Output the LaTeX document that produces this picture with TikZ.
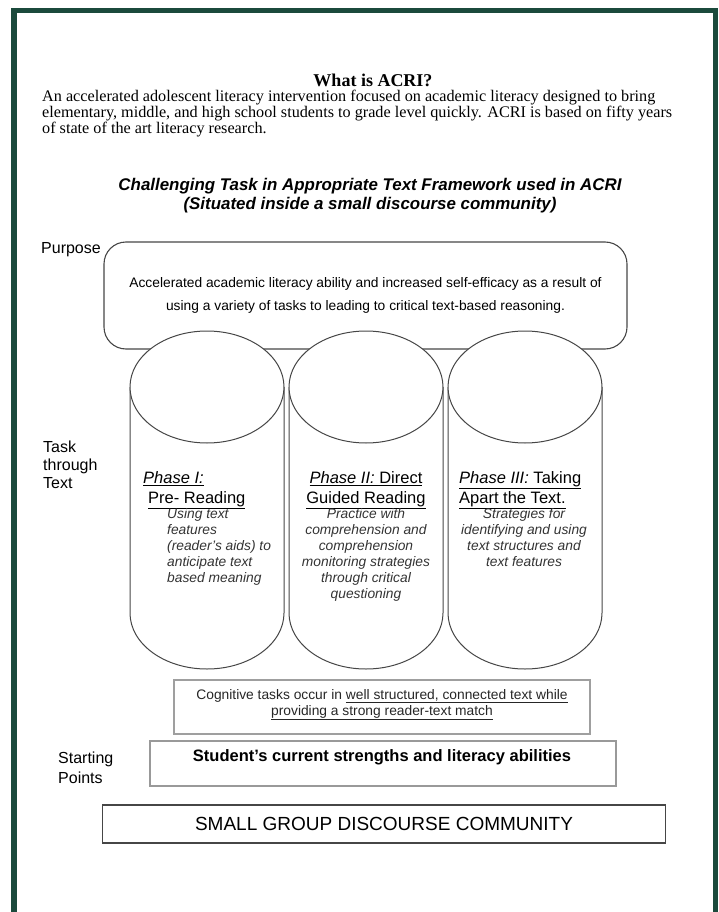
\documentclass[tikz,border=0pt]{standalone}
\usepackage{fontspec}
\setmainfont{Liberation Serif}
\setsansfont{Liberation Sans}
\usetikzlibrary{shapes.geometric}
\definecolor{framegreen}{RGB}{27,74,60}
\definecolor{linegray}{RGB}{70,70,70}
\newcommand{\fsz}[2]{\fontsize{#1}{#2}\selectfont}

\begin{document}
\begin{tikzpicture}[x=1pt, y=-1pt,
        block/.style={rectangle, draw=linegray, line width=1.1pt, inner sep=0pt},
        sidelabel/.style={font=\sffamily\fsz{16}{18}, align=left, anchor=north west, inner sep=0pt},
        cyltop/.style={ellipse, draw=linegray, fill=white, line width=1pt, minimum width=154pt, minimum height=112pt, inner sep=0pt},
        cylbody/.style={draw=linegray, line width=1pt},
        phasehead/.style={font=\sffamily\fsz{16.5}{20}, inner sep=0pt},
        phasetext/.style={font=\sffamily\itshape\fsz{13.8}{16}, inner sep=0pt, text=black!80}
    ]
        \useasboundingbox (0,0) rectangle (718,912);

        % Frame
        \fill[framegreen] (11,8) rectangle (718,13);
        \fill[framegreen] (11,8) rectangle (17,912);
        \fill[framegreen] (713,8) rectangle (718,912);

        % Header
        \node[font=\bfseries\fsz{18}{20}, inner sep=0pt] (title) at (373,80) {What is ACRI?};
        \node[font=\fsz{16.2}{16}, align=left, anchor=north west, inner sep=0pt] (intro) at (42,90)
            {An accelerated adolescent literacy intervention focused on academic literacy designed to bring\\
             elementary, middle, and high school students to grade level quickly. ACRI is based on fifty years\\
             of state of the art literacy research.};

        \node[font=\sffamily\bfseries\itshape\fsz{16.9}{19}, align=center, inner sep=0pt] (frame) at (370,196)
            {Challenging Task in Appropriate Text Framework used in ACRI\\(Situated inside a small discourse community)};

        % Purpose
        \node[sidelabel, anchor=west] (purposelbl) at (41,250) {Purpose};
        \node[block, rounded corners=22pt, minimum width=523pt, minimum height=107pt,
              font=\sffamily\fsz{13.8}{23}, align=center] (purpose) at (365.5,295.5)
            {Accelerated academic literacy ability and increased self-efficacy as a result of\\
             using a variety of tasks to leading to critical text-based reasoning.};

        % Task through text: three cylinders
        \node[sidelabel] (tasklbl) at (43,441) {Task\\through\\Text};

        \draw[cylbody] (130,387) -- (130,613) arc[start angle=180, end angle=360, x radius=77pt, y radius=56pt] -- (284,387);
        \draw[cylbody] (289,387) -- (289,613) arc[start angle=180, end angle=360, x radius=77pt, y radius=56pt] -- (443,387);
        \draw[cylbody] (448,387) -- (448,613) arc[start angle=180, end angle=360, x radius=77pt, y radius=56pt] -- (602,387);
        \node[cyltop] (top1) at (207,387) {};
        \node[cyltop] (top2) at (366,387) {};
        \node[cyltop] (top3) at (525,387) {};

        % Phase I
        \node[phasehead, align=left, anchor=north west] (ph1) at (143,471)
            {\underline{\textit{Phase I:}}\\\hspace*{5pt}\underline{Pre- Reading}};
        \node[phasetext, align=left, anchor=north west] (ph1text) at (167,508)
            {Using text\\features\\(reader's aids) to\\anticipate text\\based meaning};

        % Phase II
        \node[phasehead, align=center, anchor=north] (ph2) at (366,471)
            {\underline{\textit{Phase II:} Direct}\\\underline{Guided Reading}};
        \node[phasetext, align=center, anchor=north] (ph2text) at (366,508)
            {Practice with\\comprehension and\\comprehension\\monitoring strategies\\through critical\\questioning};

        % Phase III
        \node[phasehead, align=left, anchor=north west] (ph3) at (459,471)
            {\underline{\textit{Phase III:} Taking}\\\underline{Apart the Text.}};
        \node[phasetext, align=center, anchor=north] (ph3text) at (524,508)
            {Strategies for\\identifying and using\\text structures and\\text features};

        % Text conditions
        \node[block, draw=gray!75, line width=1.6pt, minimum width=416pt, minimum height=54pt] (cog) at (382,707) {};
        \node[font=\sffamily\fsz{13.8}{16}, align=center, inner sep=0pt, anchor=north, text=black!85] (cogtext) at ([yshift=-10pt]cog.north)
            {Cognitive tasks occur in \underline{well structured, connected text while}\\\underline{providing a strong reader-text match}};

        % Starting points
        \node[sidelabel, font=\sffamily\fsz{16}{20}] (startlbl) at (58,752) {Starting\\Points};
        \node[block, draw=gray!80, line width=1.3pt, minimum width=466pt, minimum height=45pt] (student) at (383,763.5) {};
        \node[font=\sffamily\bfseries\fsz{16.5}{18}, inner sep=0pt] (studenttext) at (382,757)
            {Student's current strengths and literacy abilities};

        % Community
        \node[block, minimum width=563pt, minimum height=38pt, font=\sffamily\fsz{19}{21}] (community) at (384,824)
            {SMALL GROUP DISCOURSE COMMUNITY};
    \end{tikzpicture}
\end{document}
